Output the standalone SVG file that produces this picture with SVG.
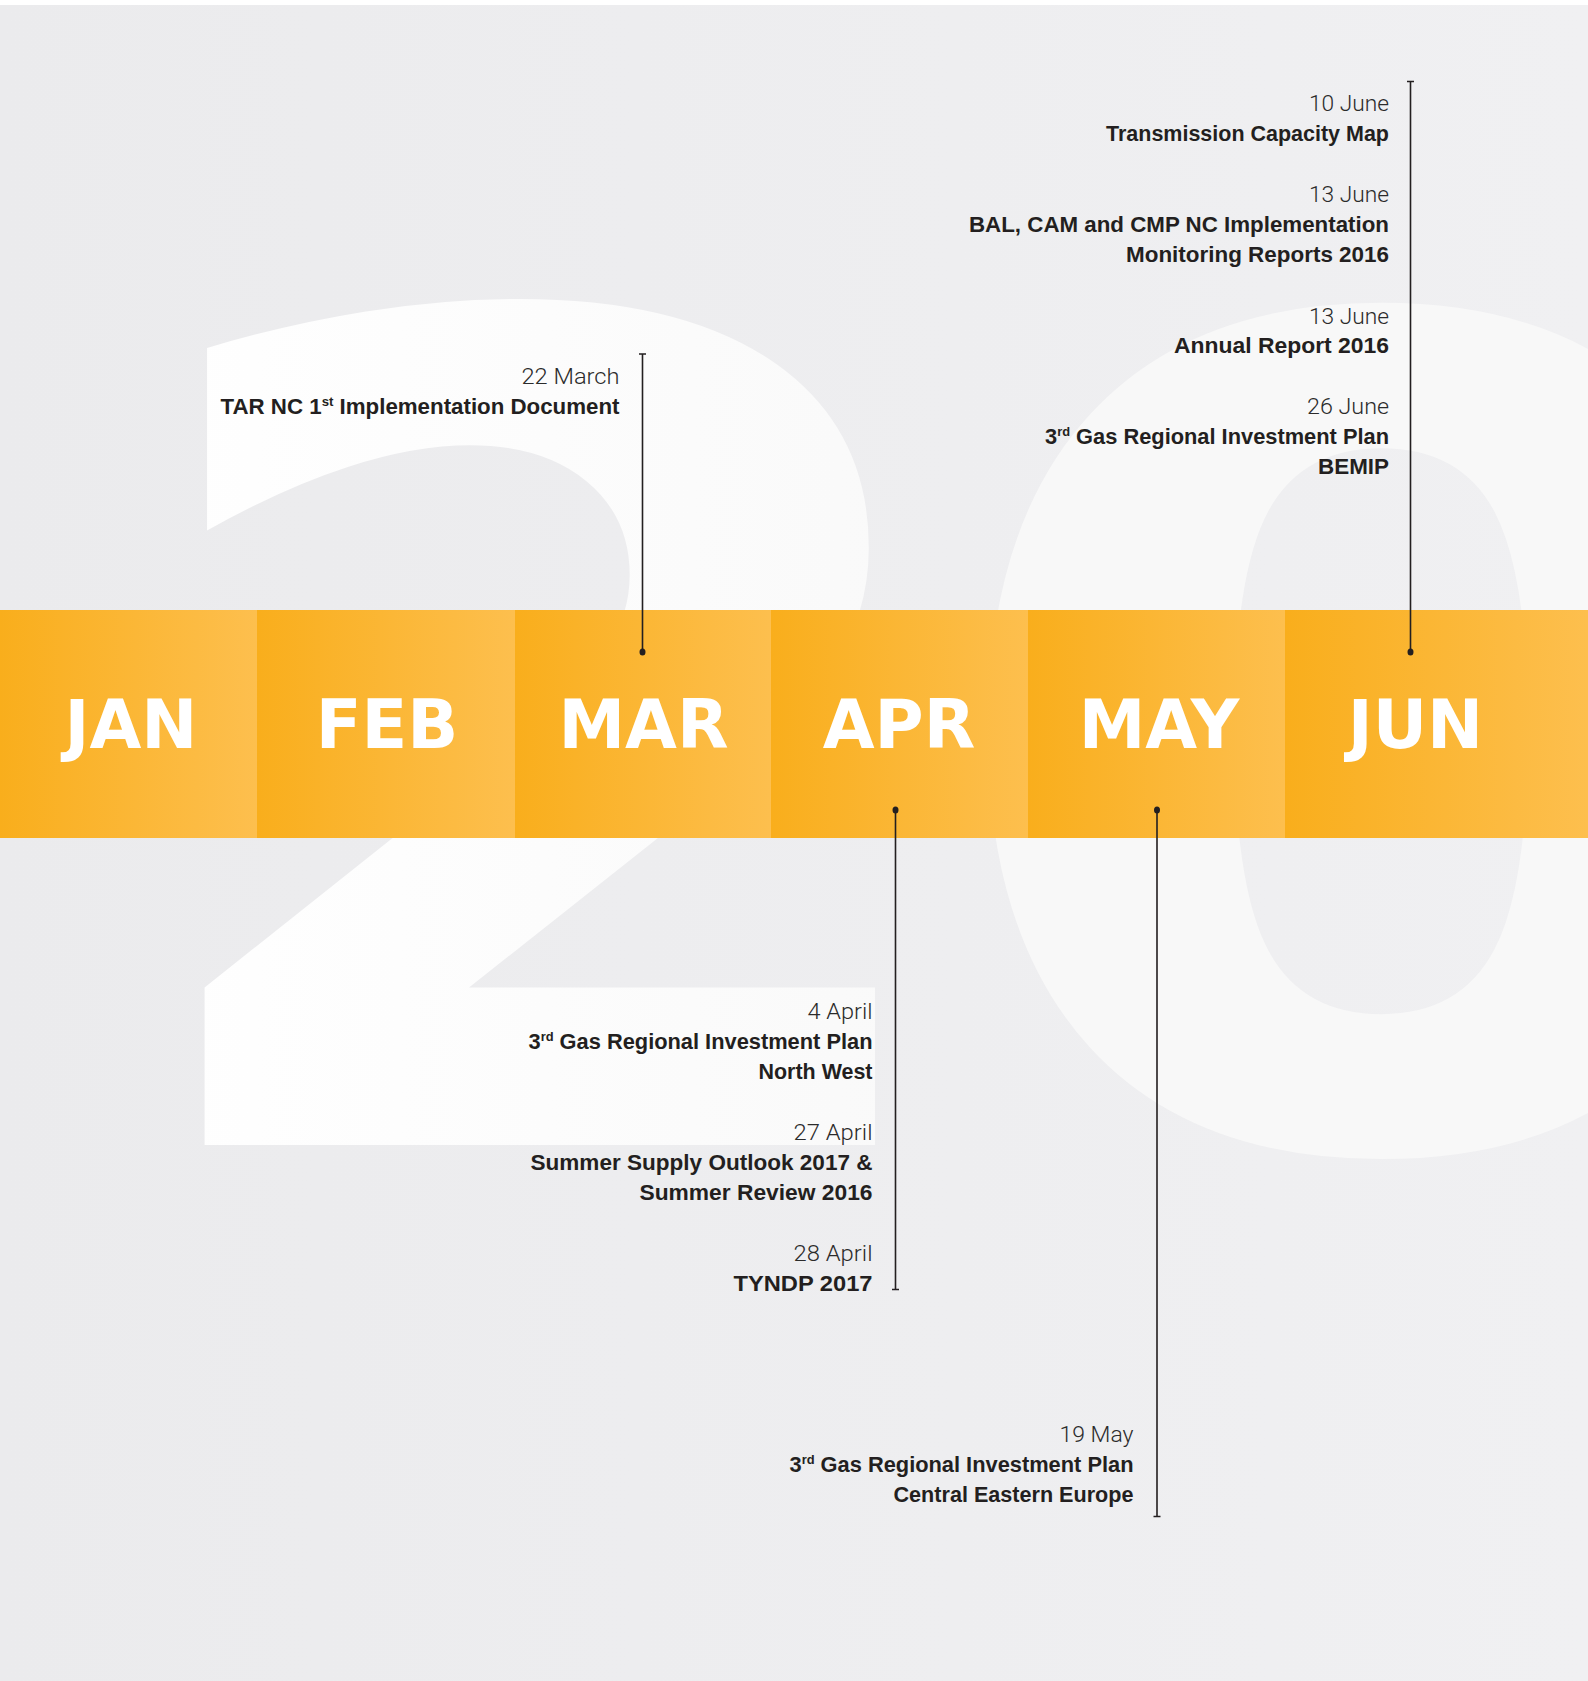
<svg xmlns="http://www.w3.org/2000/svg" width="1588" height="1681" viewBox="0 0 1588 1681">
<defs>
<linearGradient id="bg" x1="0" y1="0" x2="1588" y2="0" gradientUnits="userSpaceOnUse">
<stop offset="0" stop-color="#EBEBED"/><stop offset="1" stop-color="#F0F0F2"/>
</linearGradient>
<linearGradient id="g2" x1="0" y1="0" x2="1" y2="0">
<stop offset="0" stop-color="#FFFFFF"/><stop offset="1" stop-color="#F9F9F9"/>
</linearGradient>
<linearGradient id="col" x1="0" y1="0" x2="1" y2="0">
<stop offset="0" stop-color="#F9AE1C"/><stop offset="1" stop-color="#FDBF4E"/>
</linearGradient>
<style>
.month{font-family:"DejaVu Sans",sans-serif;font-weight:bold;font-size:67px;fill:#FFFFFF;text-anchor:middle}
.date{font-family:Roboto,"Liberation Sans",sans-serif;font-weight:300;font-size:22px;fill:#2B2B2B;text-anchor:end}
.title{font-family:"Liberation Sans",Arial,sans-serif;font-weight:bold;font-size:22px;fill:#231F20;text-anchor:end}
.sup{font-size:13px}
.line{stroke:#231F20;stroke-width:1.6;fill:none}
.dot{fill:#231F20}
.big{font-family:"DejaVu Sans",sans-serif;font-weight:bold;font-size:1140px}
</style>
</defs>
<rect x="0" y="0" width="1588" height="1681" fill="#FFFFFF"/>
<rect x="0" y="5" width="1588" height="1676" fill="url(#bg)"/>
<g id="year-digits">
<text class="big" x="0" y="0" fill="url(#g2)" transform="translate(104.5,1145) scale(1.11,1)">2</text>
<text class="big" x="0" y="0" fill="#F8F8F8" transform="translate(925,1143) scale(1.15,0.993)">0</text>
</g>
<g id="band">
<g id="m-jan"><rect x="0" y="610" width="257" height="228" fill="url(#col)"/><text class="month" x="131" y="748">JAN</text></g>
<g id="m-feb"><rect x="257" y="610" width="258" height="228" fill="url(#col)"/><text class="month" x="387" y="748">FEB</text></g>
<g id="m-mar"><rect x="515" y="610" width="256" height="228" fill="url(#col)"/><text class="month" x="643.5" y="748">MAR</text></g>
<g id="m-apr"><rect x="771" y="610" width="257" height="228" fill="url(#col)"/><text class="month" x="899" y="748">APR</text></g>
<g id="m-may"><rect x="1028" y="610" width="257" height="228" fill="url(#col)"/><text class="month" x="1159" y="748">MAY</text></g>
<g id="m-jun"><rect x="1285" y="610" width="303" height="228" fill="url(#col)"/><text class="month" x="1415.5" y="748">JUN</text></g>
</g>
<g id="connectors">
<path class="line" d="M642.5 354V652M639 354H646"/>
<ellipse class="dot" cx="642.5" cy="652" rx="3" ry="3.6"/>
<path class="line" d="M1410.5 81.5V652M1407 81.5H1414"/>
<ellipse class="dot" cx="1410.5" cy="652" rx="3" ry="3.6"/>
<path class="line" d="M895.5 810V1289.5M892 1289.5H899"/>
<ellipse class="dot" cx="895.5" cy="810" rx="3" ry="3.6"/>
<path class="line" d="M1157 810V1516.5M1153.5 1516.5H1160.5"/>
<ellipse class="dot" cx="1157" cy="810" rx="3" ry="3.6"/>
</g>
<g id="ev-mar22">
<text class="date" x="619.5" y="383.5" textLength="98" lengthAdjust="spacingAndGlyphs">22 March</text>
<text class="title" x="619.5" y="413.5" textLength="399" lengthAdjust="spacingAndGlyphs">TAR NC 1<tspan class="sup" dy="-8">st</tspan><tspan dy="8"> Implementation Document</tspan></text>
</g>
<g id="ev-jun10">
<text class="date" x="1389" y="111" textLength="80" lengthAdjust="spacingAndGlyphs">10 June</text>
<text class="title" x="1389" y="141" textLength="283" lengthAdjust="spacingAndGlyphs">Transmission Capacity Map</text>
</g>
<g id="ev-jun13a">
<text class="date" x="1389" y="202" textLength="80" lengthAdjust="spacingAndGlyphs">13 June</text>
<text class="title" x="1389" y="232" textLength="420" lengthAdjust="spacingAndGlyphs">BAL, CAM and CMP NC Implementation</text>
<text class="title" x="1389" y="262" textLength="263" lengthAdjust="spacingAndGlyphs">Monitoring Reports 2016</text>
</g>
<g id="ev-jun13b">
<text class="date" x="1389" y="323.5" textLength="80" lengthAdjust="spacingAndGlyphs">13 June</text>
<text class="title" x="1389" y="353" textLength="215" lengthAdjust="spacingAndGlyphs">Annual Report 2016</text>
</g>
<g id="ev-jun26">
<text class="date" x="1389" y="414" textLength="82" lengthAdjust="spacingAndGlyphs">26 June</text>
<text class="title" x="1389" y="444" textLength="344" lengthAdjust="spacingAndGlyphs">3<tspan class="sup" dy="-8">rd</tspan><tspan dy="8"> Gas Regional Investment Plan</tspan></text>
<text class="title" x="1389" y="473.5" textLength="71" lengthAdjust="spacingAndGlyphs">BEMIP</text>
</g>
<g id="ev-apr4">
<text class="date" x="872.5" y="1019" textLength="65" lengthAdjust="spacingAndGlyphs">4 April</text>
<text class="title" x="872.5" y="1049" textLength="344" lengthAdjust="spacingAndGlyphs">3<tspan class="sup" dy="-8">rd</tspan><tspan dy="8"> Gas Regional Investment Plan</tspan></text>
<text class="title" x="872.5" y="1079" textLength="114" lengthAdjust="spacingAndGlyphs">North West</text>
</g>
<g id="ev-apr27">
<text class="date" x="872.5" y="1140" textLength="79" lengthAdjust="spacingAndGlyphs">27 April</text>
<text class="title" x="872.5" y="1170" textLength="342" lengthAdjust="spacingAndGlyphs">Summer Supply Outlook 2017 &amp;</text>
<text class="title" x="872.5" y="1200" textLength="233" lengthAdjust="spacingAndGlyphs">Summer Review 2016</text>
</g>
<g id="ev-apr28">
<text class="date" x="872.5" y="1261" textLength="79" lengthAdjust="spacingAndGlyphs">28 April</text>
<text class="title" x="872.5" y="1291" textLength="139" lengthAdjust="spacingAndGlyphs">TYNDP 2017</text>
</g>
<g id="ev-may19">
<text class="date" x="1133.5" y="1442" textLength="74" lengthAdjust="spacingAndGlyphs">19 May</text>
<text class="title" x="1133.5" y="1472" textLength="344" lengthAdjust="spacingAndGlyphs">3<tspan class="sup" dy="-8">rd</tspan><tspan dy="8"> Gas Regional Investment Plan</tspan></text>
<text class="title" x="1133.5" y="1502" textLength="240" lengthAdjust="spacingAndGlyphs">Central Eastern Europe</text>
</g>
</svg>
